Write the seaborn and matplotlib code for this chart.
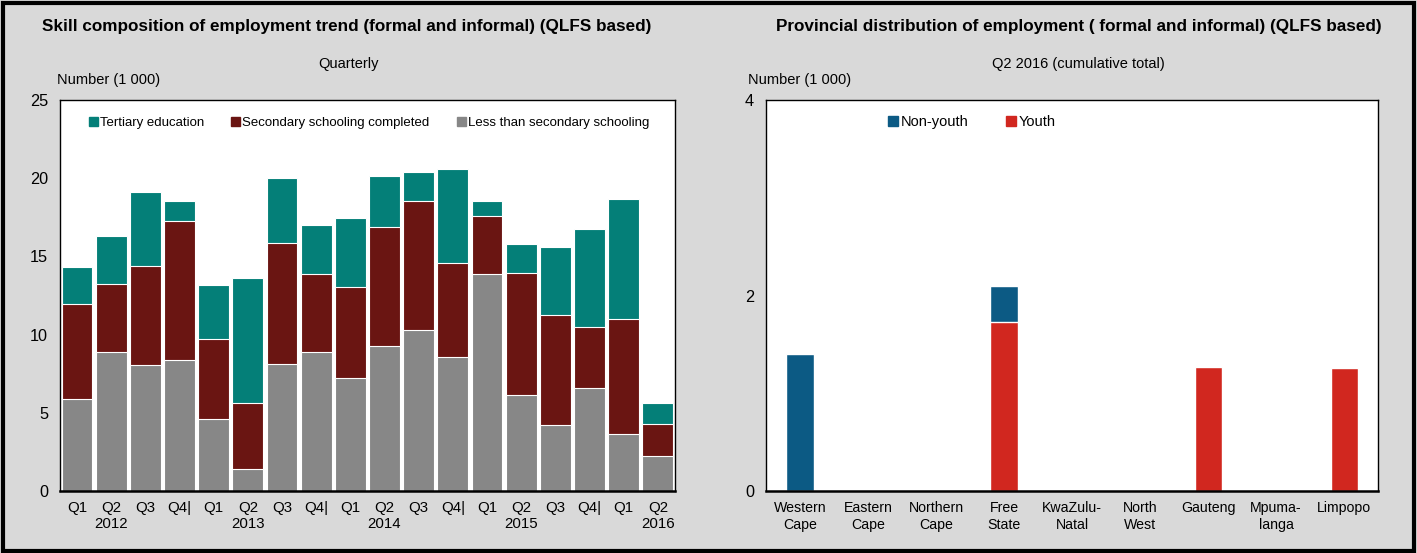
import pandas as pd
import numpy as np
import matplotlib.pyplot as plt
import seaborn as sns
from matplotlib.patches import Patch, Rectangle

# 1. Data
periods = ['2012Q1', '2012Q2', '2012Q3', '2012Q4', '2013Q1', '2013Q2', '2013Q3', '2013Q4',
           '2014Q1', '2014Q2', '2014Q3', '2014Q4', '2015Q1', '2015Q2', '2015Q3', '2015Q4',
           '2016Q1', '2016Q2']
period_labels = ['Q1', 'Q2\n2012', 'Q3', 'Q4|', 'Q1', 'Q2\n2013', 'Q3', 'Q4|',
                 'Q1', 'Q2\n2014', 'Q3', 'Q4|', 'Q1', 'Q2\n2015', 'Q3', 'Q4|',
                 'Q1', 'Q2\n2016']
less_than_secondary = [5.9, 8.87, 8.09, 8.36, 4.6, 1.4, 8.1, 8.87, 7.23, 9.26, 10.3, 8.55,
                       13.87, 6.17, 4.2, 6.6, 3.66, 2.23]
secondary_completed = [6.06, 4.39, 6.31, 8.94, 5.1, 4.2, 7.75, 5.03, 5.81, 7.64, 8.25, 6.05,
                       3.73, 7.77, 7.08, 3.9, 7.34, 2.07]
tertiary = [2.34, 3.02, 4.7, 1.25, 3.5, 8.0, 4.15, 3.1, 4.43, 3.25, 1.85, 6.0,
            0.97, 1.86, 4.32, 6.27, 7.66, 1.34]

provinces = ['Western Cape', 'Eastern Cape', 'Northern Cape', 'Free State', 'KwaZulu-Natal',
             'North West', 'Gauteng', 'Mpumalanga', 'Limpopo']
province_labels = ['Western\nCape', 'Eastern\nCape', 'Northern\nCape', 'Free\nState',
                   'KwaZulu-\nNatal', 'North\nWest', 'Gauteng', 'Mpuma-\nlanga', 'Limpopo']
youth = [0, 0, 0, 1.73, 0, 0, 1.27, 0, 1.26]
non_youth = [1.4, 0, 0, 0.37, 0, 0, 0, 0, 0]

# 2. Style
sns.set_style("white")
plt.rcParams['font.family'] = ['Liberation Sans', 'DejaVu Sans']
plt.rcParams['text.color'] = 'black'
plt.rcParams['xtick.color'] = 'black'
plt.rcParams['ytick.color'] = 'black'

fs = 10.2
bg = '#d9d9d9'
teal, dark_red, grey = '#047f78', '#6a1512', '#878787'
blue, red = '#0c5a84', '#d1271f'

fig = plt.figure(figsize=(14.17, 5.53), dpi=100, facecolor=bg)
fig.patches.append(Rectangle((0.002, 0.004), 0.996, 0.991, transform=fig.transFigure,
                             fill=False, edgecolor='black', linewidth=3))

ax1 = fig.add_axes([0.0423, 0.112, 0.434, 0.707])
ax2 = fig.add_axes([0.5406, 0.112, 0.432, 0.707])

# 3. Left chart: stacked by layering cumulative totals
df1 = pd.DataFrame({'Period': periods,
                    'Less': less_than_secondary,
                    'Secondary': secondary_completed,
                    'Tertiary': tertiary})
df1['lvl2'] = df1['Less'] + df1['Secondary']
df1['lvl3'] = df1['lvl2'] + df1['Tertiary']

for col, c in [('lvl3', teal), ('lvl2', dark_red), ('Less', grey)]:
    sns.barplot(data=df1, x='Period', y=col, color=c, width=0.9, ax=ax1,
                saturation=1, edgecolor='white', linewidth=0.8)

ax1.set_ylim(0, 25)
ax1.set_xlim(-0.5, len(periods) - 0.5)
ax1.set_yticks(np.arange(0, 26, 5))
ax1.set_xticks(range(len(periods)))
ax1.set_xticklabels(period_labels, fontsize=fs + 0.6, linespacing=1.2)
ax1.set_xticks(np.arange(-0.5, len(periods)), minor=True)
ax1.tick_params(axis='x', which='major', length=0, pad=7)
ax1.tick_params(axis='x', which='minor', length=5, width=1, direction='out')
ax1.tick_params(axis='y', length=5, width=1, direction='out', labelsize=fs + 1.5)
ax1.set_xlabel('')
ax1.set_ylabel('')

handles1 = [Patch(color=teal, label='Tertiary education'),
            Patch(color=dark_red, label='Secondary schooling completed'),
            Patch(color=grey, label='Less than secondary schooling')]
ax1.legend(handles=handles1, loc='center left', bbox_to_anchor=(0.038, 0.941), ncol=3,
           frameon=False, fontsize=9.5, handlelength=0.7, handleheight=0.7,
           handletextpad=0.15, columnspacing=2.05, borderaxespad=0)

# 4. Right chart: youth at the bottom, non-youth on top
df2 = pd.DataFrame({'Province': provinces, 'Youth': youth, 'NonYouth': non_youth})
df2['Total'] = df2['Youth'] + df2['NonYouth']

sns.barplot(data=df2, x='Province', y='Total', color=blue, width=0.4, ax=ax2, saturation=1)
sns.barplot(data=df2, x='Province', y='Youth', color=red, width=0.4, ax=ax2, saturation=1)

ax2.set_ylim(0, 4)
ax2.set_xlim(-0.5, len(provinces) - 0.5)
ax2.set_yticks([0, 2, 4])
ax2.set_xticks(range(len(provinces)))
ax2.set_xticklabels(province_labels, fontsize=fs, linespacing=1.3)
ax2.set_xticks(np.arange(-0.5, len(provinces)), minor=True)
ax2.tick_params(axis='x', which='major', length=0, pad=7)
ax2.tick_params(axis='x', which='minor', length=5, width=1, direction='out')
ax2.tick_params(axis='y', length=5, width=1, direction='out', labelsize=fs + 1.5)
ax2.set_xlabel('')
ax2.set_ylabel('')

handles2 = [Patch(color=blue, label='Non-youth'), Patch(color=red, label='Youth')]
ax2.legend(handles=handles2, loc='center left', bbox_to_anchor=(0.19, 0.943), ncol=2,
           frameon=False, fontsize=fs + 0.3, handlelength=0.7, handleheight=0.7,
           handletextpad=0.15, columnspacing=2.6, borderaxespad=0)

for ax in (ax1, ax2):
    ax.set_facecolor('white')
    for s in ax.spines.values():
        s.set_color('black')
        s.set_linewidth(1)
    ax.spines['bottom'].set_linewidth(1.8)

# 5. Titles and unit labels
fig.text(0.245, 0.952, 'Skill composition of employment trend (formal and informal) (QLFS based)',
         ha='center', va='center', fontsize=12.3, fontweight='bold')
fig.text(0.246, 0.885, 'Quarterly', ha='center', va='center', fontsize=fs + 0.3)
fig.text(0.040, 0.855, 'Number (1 000)', ha='left', va='center', fontsize=fs + 0.3)

fig.text(0.761, 0.952, 'Provincial distribution of employment ( formal and informal) (QLFS based)',
         ha='center', va='center', fontsize=12.3, fontweight='bold')
fig.text(0.761, 0.885, 'Q2 2016 (cumulative total)', ha='center', va='center', fontsize=fs + 0.3)
fig.text(0.528, 0.855, 'Number (1 000)', ha='left', va='center', fontsize=fs + 0.3)

fig.savefig('out.png', dpi=100, facecolor=bg)
